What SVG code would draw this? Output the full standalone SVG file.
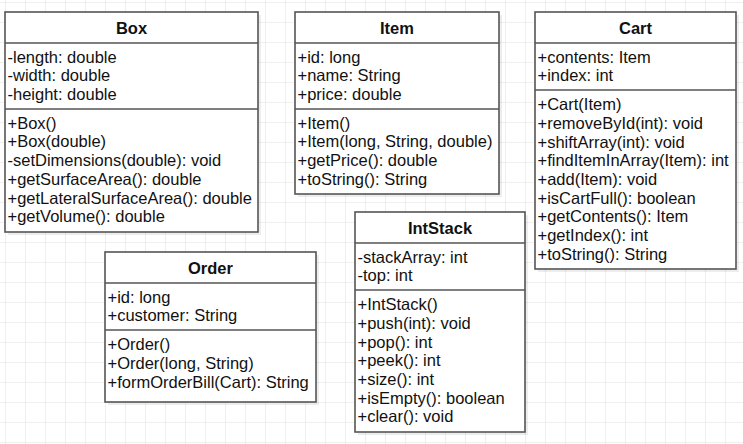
<svg xmlns="http://www.w3.org/2000/svg" width="743" height="444" viewBox="0 0 743 444">
<style>
.box{fill:#fff;stroke:#555;stroke-width:1.6}
.sh{fill:#000;fill-opacity:0.07}
.div{stroke:#555;stroke-width:1.6}
.t{font-family:"Liberation Sans",Arial,sans-serif;font-size:16.5px;fill:#111}
.h{font-family:"Liberation Sans",Arial,sans-serif;font-size:16.5px;font-weight:bold;fill:#111;text-anchor:middle}
</style>
<defs>
<pattern id="grid" x="5" y="2" width="20" height="20" patternUnits="userSpaceOnUse">
<path d="M0 0V20M0 0H20" fill="none" stroke="#ebebeb" stroke-width="1.6"/>
</pattern>
</defs>
<rect width="743" height="444" fill="#fff"/>
<rect width="743" height="444" fill="url(#grid)"/>
<g id="connectors"></g>
<g id="Box">
<rect class="sh" x="8" y="15" width="253" height="220"/>
<rect class="box" x="5" y="12" width="253" height="220"/>
<line class="div" x1="5" y1="43" x2="258" y2="43"/>
<line class="div" x1="5" y1="109" x2="258" y2="109"/>
<text class="h" x="131.5" y="34">Box</text>
<text class="t" x="7.5" y="62.7">-length: double</text>
<text class="t" x="7.5" y="81.4">-width: double</text>
<text class="t" x="7.5" y="100.1">-height: double</text>
<text class="t" x="7.5" y="128.7">+Box()</text>
<text class="t" x="7.5" y="147.4">+Box(double)</text>
<text class="t" x="7.5" y="166.1">-setDimensions(double): void</text>
<text class="t" x="7.5" y="184.8">+getSurfaceArea(): double</text>
<text class="t" x="7.5" y="203.5">+getLateralSurfaceArea(): double</text>
<text class="t" x="7.5" y="222.2">+getVolume(): double</text>
</g>
<g id="Item">
<rect class="sh" x="298" y="15" width="204" height="182"/>
<rect class="box" x="295" y="12" width="204" height="182"/>
<line class="div" x1="295" y1="43" x2="499" y2="43"/>
<line class="div" x1="295" y1="109" x2="499" y2="109"/>
<text class="h" x="397" y="34">Item</text>
<text class="t" x="297.5" y="62.7">+id: long</text>
<text class="t" x="297.5" y="81.4">+name: String</text>
<text class="t" x="297.5" y="100.1">+price: double</text>
<text class="t" x="297.5" y="128.7">+Item()</text>
<text class="t" x="297.5" y="147.4">+Item(long, String, double)</text>
<text class="t" x="297.5" y="166.1">+getPrice(): double</text>
<text class="t" x="297.5" y="184.8">+toString(): String</text>
</g>
<g id="Cart">
<rect class="sh" x="538" y="15" width="201" height="257"/>
<rect class="box" x="535" y="12" width="201" height="257"/>
<line class="div" x1="535" y1="43" x2="736" y2="43"/>
<line class="div" x1="535" y1="90" x2="736" y2="90"/>
<text class="h" x="635.5" y="34">Cart</text>
<text class="t" x="537.5" y="62.7">+contents: Item</text>
<text class="t" x="537.5" y="81.4">+index: int</text>
<text class="t" x="537.5" y="110.2">+Cart(Item)</text>
<text class="t" x="537.5" y="128.9">+removeById(int): void</text>
<text class="t" x="537.5" y="147.6">+shiftArray(int): void</text>
<text class="t" x="537.5" y="166.3">+findItemInArray(Item): int</text>
<text class="t" x="537.5" y="185">+add(Item): void</text>
<text class="t" x="537.5" y="203.7">+isCartFull(): boolean</text>
<text class="t" x="537.5" y="222.4">+getContents(): Item</text>
<text class="t" x="537.5" y="241.1">+getIndex(): int</text>
<text class="t" x="537.5" y="259.8">+toString(): String</text>
</g>
<g id="Order">
<rect class="sh" x="108" y="255" width="211" height="150"/>
<rect class="box" x="105" y="252" width="211" height="150"/>
<line class="div" x1="105" y1="283" x2="316" y2="283"/>
<line class="div" x1="105" y1="330" x2="316" y2="330"/>
<text class="h" x="210.5" y="274">Order</text>
<text class="t" x="107.5" y="302.7">+id: long</text>
<text class="t" x="107.5" y="321.4">+customer: String</text>
<text class="t" x="107.5" y="350.2">+Order()</text>
<text class="t" x="107.5" y="368.9">+Order(long, String)</text>
<text class="t" x="107.5" y="387.6">+formOrderBill(Cart): String</text>
</g>
<g id="IntStack">
<rect class="sh" x="358" y="215" width="170" height="220"/>
<rect class="box" x="355" y="212" width="170" height="220"/>
<line class="div" x1="355" y1="243" x2="525" y2="243"/>
<line class="div" x1="355" y1="290" x2="525" y2="290"/>
<text class="h" x="440" y="234">IntStack</text>
<text class="t" x="357.5" y="262.7">-stackArray: int</text>
<text class="t" x="357.5" y="281.4">-top: int</text>
<text class="t" x="357.5" y="310.2">+IntStack()</text>
<text class="t" x="357.5" y="328.9">+push(int): void</text>
<text class="t" x="357.5" y="347.6">+pop(): int</text>
<text class="t" x="357.5" y="366.3">+peek(): int</text>
<text class="t" x="357.5" y="385">+size(): int</text>
<text class="t" x="357.5" y="403.7">+isEmpty(): boolean</text>
<text class="t" x="357.5" y="422.4">+clear(): void</text>
</g>
</svg>
